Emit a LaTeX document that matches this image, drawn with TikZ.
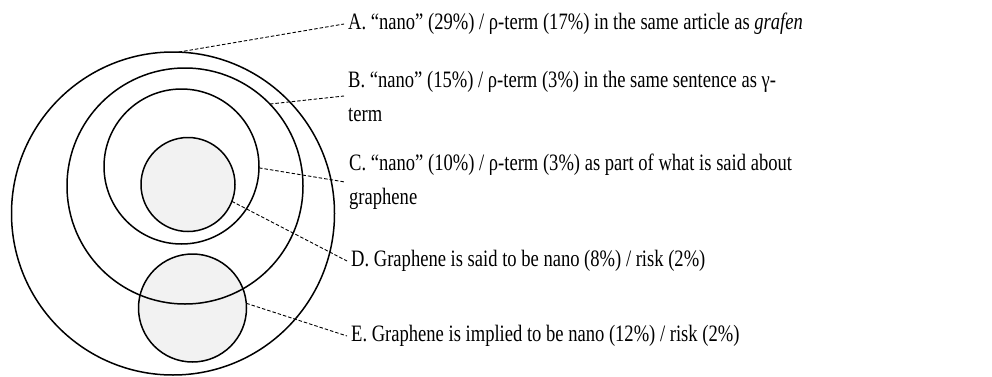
\documentclass[tikz,border=0pt]{standalone}
\usepackage{fontspec}
\setmainfont{Liberation Serif}[FakeStretch=0.79]

\definecolor{coregray}{RGB}{242,242,242}

\tikzset{
  ring/.style={circle, draw=black, line width=1.5pt, inner sep=0pt, outer sep=0pt},
  core/.style={ring, fill=coregray},
  leader/.style={draw=black, line width=0.9pt, dash pattern=on 3.5pt off 2pt},
  lbl/.style={anchor=west, align=left, inner xsep=4pt, inner ysep=0pt,
              font=\fontsize{23.5}{34}\selectfont}
}

\begin{document}
\begin{tikzpicture}[x=1pt, y=1pt]
\useasboundingbox (0,0) rectangle (992,376);

% ── Nested sets (E first, so the B ring runs over it) ──
\node[core, minimum size=108pt] (setE) at (192.5, 68) {};
\node[ring, minimum size=323pt] (setA) at (173, 162.5) {};
\node[ring, minimum size=236pt] (setB) at (185, 190) {};
\node[ring, minimum size=155pt] (setC) at (181.5, 209.5) {};
\node[core, minimum size=94pt]  (setD) at (188, 191.5) {};

% ── Labels ──
\node[lbl] (labA) at (344, 352) {A. “nano” (29\%) / ρ-term (17\%) in the same article as \textit{grafen}};
\node[lbl] (labB) at (344, 280) {B. “nano” (15\%) / ρ-term (3\%) in the same sentence as γ-\\term};
\node[lbl] (labC) at (345, 194) {C. “nano” (10\%) / ρ-term (3\%) as part of what is said about\\graphene};
\node[lbl] (labD) at (347, 115) {D. Graphene is said to be nano (8\%) / risk (2\%)};
\node[lbl] (labE) at (347, 40)  {E. Graphene is implied to be nano (12\%) / risk (2\%)};

% ── Leaders ──
\draw[leader] (setA.88)  -- (labA.west);
\draw[leader] (setB.44)  -- (labB.west);
\draw[leader] (setC.-1)  -- (labC.west);
\draw[leader] (setD.-21) -- (labD.west);
\draw[leader] (setE.5)   -- (labE.west);

\end{tikzpicture}
\end{document}
